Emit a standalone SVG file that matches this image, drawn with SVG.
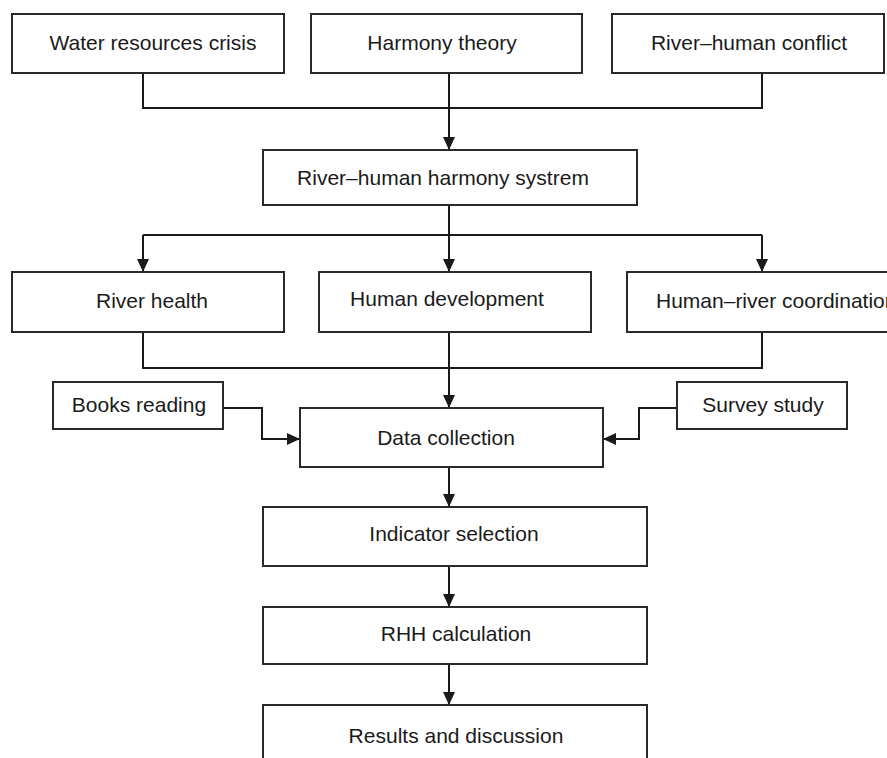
<svg xmlns="http://www.w3.org/2000/svg" width="887" height="758" viewBox="0 0 887 758">
<defs>
<marker id="ah" markerUnits="userSpaceOnUse" markerWidth="14" markerHeight="12" refX="13" refY="6" orient="auto">
<path d="M0,0 L13,6 L0,12 z" fill="#1a1a1a"/>
</marker>
<style>
.box{fill:#fff;stroke:#2a2a2a;stroke-width:2}
.t{font-family:"Liberation Sans",Arial,sans-serif;font-size:21px;fill:#1a1a1a;text-anchor:middle}
.c{fill:none;stroke:#1a1a1a;stroke-width:2}
.a{marker-end:url(#ah)}
</style>
</defs>
<rect width="887" height="758" fill="#fff"/>
<g id="connectors">
<path class="c" d="M143,73 V108 H762 V73"/>
<path class="c a" d="M449,73 V150"/>
<path class="c" d="M449,205 V235"/>
<path class="c" d="M143,235 H762"/>
<path class="c a" d="M143,235 V272"/>
<path class="c a" d="M449,235 V272"/>
<path class="c a" d="M762,235 V272"/>
<path class="c" d="M143,332 V368 H762 V332"/>
<path class="c a" d="M449,332 V408"/>
<path class="c a" d="M223,408 H262 V439 H300"/>
<path class="c a" d="M677,408 H639 V439 H603"/>
<path class="c a" d="M449,467 V507"/>
<path class="c a" d="M449,566 V607"/>
<path class="c a" d="M449,664 V705"/>
</g>
<g id="n1"><rect class="box" x="12" y="14" width="272" height="59"/><text class="t" x="153" y="50">Water resources crisis</text></g>
<g id="n2"><rect class="box" x="311" y="14" width="271" height="59"/><text class="t" x="442" y="50">Harmony theory</text></g>
<g id="n3"><rect class="box" x="612" y="14" width="272" height="59"/><text class="t" x="749" y="50">River–human conflict</text></g>
<g id="n4"><rect class="box" x="263" y="150" width="374" height="55"/><text class="t" x="443" y="185">River–human harmony systrem</text></g>
<g id="n5"><rect class="box" x="12" y="272" width="272" height="60"/><text class="t" x="152" y="308">River health</text></g>
<g id="n6"><rect class="box" x="319" y="272" width="272" height="60"/><text class="t" x="447" y="306">Human development</text></g>
<g id="n7"><rect class="box" x="627" y="272" width="280" height="60"/><text class="t" x="656" y="308" style="text-anchor:start">Human–river coordination</text></g>
<g id="n8"><rect class="box" x="53" y="382" width="170" height="47"/><text class="t" x="139" y="412">Books reading</text></g>
<g id="n9"><rect class="box" x="677" y="382" width="170" height="47"/><text class="t" x="763" y="412">Survey study</text></g>
<g id="n10"><rect class="box" x="300" y="408" width="303" height="59"/><text class="t" x="446" y="445">Data collection</text></g>
<g id="n11"><rect class="box" x="263" y="507" width="384" height="59"/><text class="t" x="454" y="541">Indicator selection</text></g>
<g id="n12"><rect class="box" x="263" y="607" width="384" height="57"/><text class="t" x="456" y="641">RHH calculation</text></g>
<g id="n13"><rect class="box" x="263" y="705" width="384" height="70"/><text class="t" x="456" y="743">Results and discussion</text></g>
</svg>
